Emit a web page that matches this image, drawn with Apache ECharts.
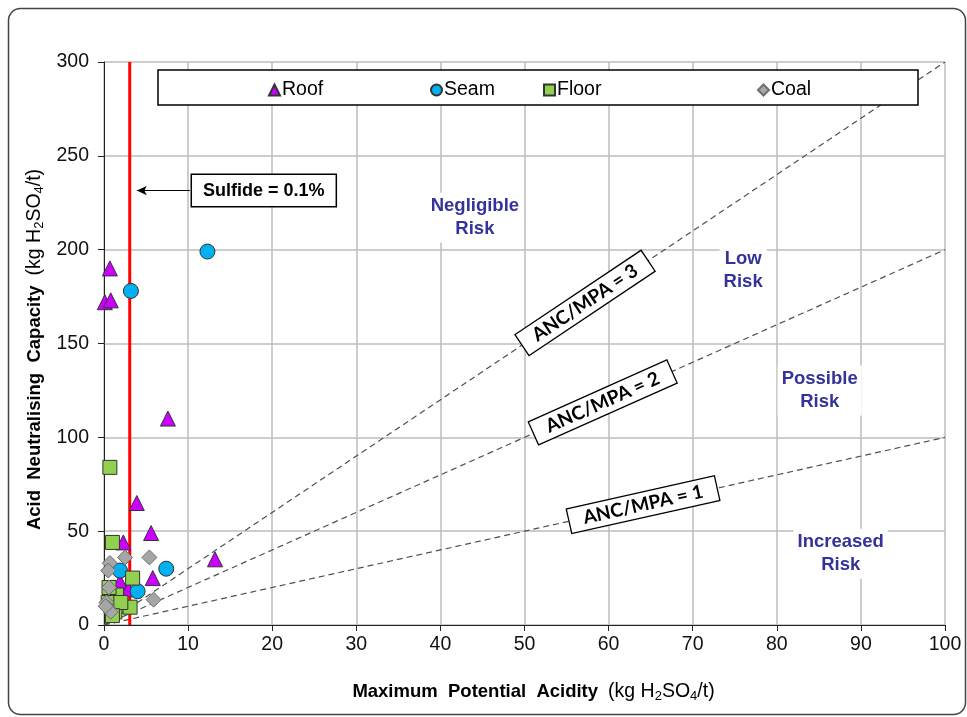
<!DOCTYPE html>
<html>
<head>
<meta charset="utf-8">
<script src="https://cdn.jsdelivr.net/npm/echarts@6/dist/echarts.min.js"></script>
<style>
html,body{margin:0;padding:0;background:#fff;}
#chart{width:967px;height:717px;}
</style>
</head>
<body>
<div id="chart"></div>
<script>
// ---- Data (MPA x, ANC y), kg H2SO4/t ----
const roofData = [[0.7,190],[0.1,172],[0.8,173],[7.6,110],[3.9,65],[5.6,49],[2.3,44],[5.8,25],[13.2,35],[1.9,23],[2.9,19],[1.0,20],[0.6,15]];
const seamData = [[12.3,199],[3.2,178],[7.4,30],[1.9,29],[4.0,18]];
const floorData = [[0.7,84],[1.0,44],[3.4,25],[1.5,16],[0.6,20],[3.1,9.5],[1.3,7],[0.5,12],[2.0,12],[1.0,5]];
const coalData = [[0.7,33],[2.5,36],[5.4,36],[0.5,29],[0.6,20],[5.9,13.5],[0.3,12],[0.5,9],[0.8,7],[0.2,10]];

// Ratio lines ANC/MPA = 1, 2, 3
const ratios = [1, 2, 3];
const xMax = 100;
const sulfideMPA = 3.06; // MPA at 0.1% sulfide

// Tick settings
const xTicks = {min: 0, max: 100, interval: 10};
const yTicks = {min: 0, max: 300, interval: 50};

// Annotation texts
const riskLabels = [
  {text: 'Negligible\nRisk', at: [44.1, 217]},
  {text: 'Low\nRisk', at: [76, 189]},
  {text: 'Possible\nRisk', at: [85.1, 125]},
  {text: 'Increased\nRisk', at: [87.6, 38]}
];
const ratioLabelX = [64.1, 59.3, 57.2];
const sulfideLabel = {text: 'Sulfide = 0.1%', at: [19.0, 231.5], arrowFrom: 10.2, arrowTo: 3.9};

const chart = echarts.init(document.getElementById('chart'), null, {renderer: 'canvas'});

const gridL = 104, gridT = 62, gridR = 22, gridB = 92;
const W = 967, H = 717;
const plotW = W - gridL - gridR, plotH = H - gridT - gridB;
// pixel angle of each ratio line (for rotating labels)
function angleFor(r) {
  const dy = (r * xMax / (yTicks.max - yTicks.min)) * plotH;
  const dx = plotW;
  return Math.atan2(dy, dx) * 180 / Math.PI;
}

const markerBorder = {borderColor: '#333', borderWidth: 1, opacity: 1};
const font = 'Liberation Sans, Arial, sans-serif';
const subRich = {
  b: {fontWeight: 'bold', fontSize: 18.5, fontFamily: font, color: '#000', lineHeight: 22},
  n: {fontSize: 19.5, fontFamily: font, color: '#000', lineHeight: 22},
  s: {fontSize: 13, fontFamily: font, color: '#000', verticalAlign: 'bottom', lineHeight: 13}
};

const series = [];

// ratio dashed lines
ratios.forEach((r, i) => {
  series.push({
    type: 'line', name: 'ratio' + r, silent: true, symbol: 'none', z: 3,
    data: [[0, 0], [xMax, r * xMax]],
    lineStyle: {color: '#505050', width: 1.2, type: [6, 4]},
    animation: false
  });
});

// ratio labels
series.push({
  type: 'scatter', name: 'ratioLabels', silent: true, symbolSize: 0, z: 8,
  itemStyle: {opacity: 1},
  data: ratios.map((r, i) => ({
    value: [ratioLabelX[i], r * ratioLabelX[i]],
    label: {
      show: true, position: 'inside', rotate: angleFor(r),
      formatter: 'ANC/MPA = ' + r,
      fontFamily: 'Lato, Open Sans, sans-serif', fontWeight: 'bold', fontSize: 19, color: '#000',
      backgroundColor: '#fff', borderColor: '#000', borderWidth: 1.3,
      padding: [3, 14, 2, 14]
    }
  })),
  animation: false
});

// risk labels
series.push({
  type: 'scatter', name: 'riskLabels', silent: true, symbolSize: 0, z: 8,
  itemStyle: {opacity: 1},
  data: riskLabels.map(d => ({
    value: d.at,
    label: {
      show: true, position: 'inside', formatter: d.text, align: 'center',
      fontFamily: font, fontWeight: 'bold', fontSize: 18.5, lineHeight: 23, color: '#333399',
      backgroundColor: '#fff', padding: [2, 4]
    }
  })),
  animation: false
});

// sulfide red line + arrow + label
series.push({
  type: 'line', name: 'sulfide', silent: true, symbol: 'none', z: 4,
  data: [[sulfideMPA, yTicks.min], [sulfideMPA, yTicks.max]],
  lineStyle: {color: '#FF0000', width: 3},
  markLine: {
    silent: true, symbol: ['none', 'arrow'], symbolSize: [7, 10],
    lineStyle: {color: '#000', width: 1, type: 'solid'},
    label: {show: false},
    data: [[{coord: [sulfideLabel.arrowFrom, sulfideLabel.at[1]]}, {coord: [sulfideLabel.arrowTo, sulfideLabel.at[1]]}]]
  },
  animation: false
});
series.push({
  type: 'scatter', name: 'sulfideLabel', silent: true, symbolSize: 0, z: 8,
  itemStyle: {opacity: 1},
  data: [{
    value: sulfideLabel.at,
    label: {
      show: true, position: 'inside', formatter: sulfideLabel.text,
      fontFamily: font, fontWeight: 'bold', fontSize: 18, color: '#000',
      backgroundColor: '#fff', borderColor: '#000', borderWidth: 1.5, padding: [7, 11, 6, 11]
    }
  }],
  animation: false
});

// data series (drawn in Excel order: Roof, Seam, Floor, Coal)
series.push({type: 'scatter', name: 'Roof', data: roofData, symbol: 'triangle', symbolSize: 15, z: 10,
  itemStyle: Object.assign({color: '#CC00FF'}, markerBorder)});
series.push({type: 'scatter', name: 'Seam', data: seamData, symbol: 'circle', symbolSize: 15, z: 11,
  itemStyle: Object.assign({color: '#00B0F0'}, markerBorder)});
series.push({type: 'scatter', name: 'Floor', data: floorData, symbol: 'rect', symbolSize: 14, z: 12,
  itemStyle: Object.assign({color: '#92D050'}, markerBorder)});
series.push({type: 'scatter', name: 'Coal', data: coalData, symbol: 'diamond', symbolSize: 15, z: 13,
  itemStyle: {color: '#A6A6A6', borderColor: '#6E6E6E', borderWidth: 1, opacity: 1}});

const legendNames = ['Roof', 'Seam', 'Floor', 'Coal'];
const legendLeft = [268, 430, 543, 757];
const legendIcons = {
  Roof: 'triangle', Seam: 'circle', Floor: 'rect', Coal: 'diamond'
};
const legends = legendNames.map((n, i) => ({
  data: [{name: n, icon: legendIcons[n]}],
  left: legendLeft[i], top: 80, padding: 0, z: 30,
  itemWidth: 11, itemHeight: 11, itemGap: 0, selectedMode: false,
  textStyle: {fontFamily: font, fontSize: 19.5, color: '#000', padding: [0, 0, 0, -3]}
}));

const option = {
  backgroundColor: '#fff',
  animation: false,
  grid: {left: gridL, top: gridT, right: gridR, bottom: gridB, containLabel: false},
  xAxis: {
    type: 'value', min: xTicks.min, max: xTicks.max, interval: xTicks.interval,
    name: '{b|Maximum  Potential  Acidity}   {n|(kg H}{s|2}{n|SO}{s|4}{n|/t)}',
    nameLocation: 'middle', nameGap: 56,
    nameTextStyle: {rich: subRich, padding: [0, 0, 0, 18]},
    axisLine: {show: true, onZero: false, lineStyle: {color: '#222', width: 1}},
    axisTick: {show: true, inside: false, length: 6, lineStyle: {color: '#222'}},
    axisLabel: {fontFamily: font, fontSize: 19.5, color: '#111', margin: 10},
    splitLine: {show: true, lineStyle: {color: '#BDBDBD', width: 1.5}}
  },
  yAxis: {
    type: 'value', min: yTicks.min, max: yTicks.max, interval: yTicks.interval,
    name: '{b|Acid  Neutralising  Capacity}   {n|(kg H}{s|2}{n|SO}{s|4}{n|/t)}',
    nameLocation: 'middle', nameGap: 53, nameRotate: 90,
    nameTextStyle: {rich: subRich, padding: [0, 12, 0, 0]},
    axisLine: {show: true, onZero: false, lineStyle: {color: '#222', width: 1}},
    axisTick: {show: true, inside: false, length: 6, lineStyle: {color: '#222'}},
    axisLabel: {fontFamily: font, fontSize: 19.5, color: '#111', margin: 15},
    splitLine: {show: true, lineStyle: {color: '#BDBDBD', width: 1.5}}
  },
  legend: legends,
  graphic: [
    {type: 'rect', z: 20, shape: {x: 158, y: 70, width: 760, height: 35},
      style: {fill: '#fff', stroke: '#000', lineWidth: 1.5}},
    {type: 'rect', z: 0, silent: true, shape: {x: 8.5, y: 8.5, width: 957, height: 706, r: 12},
      style: {fill: 'none', stroke: '#444', lineWidth: 1.5}}
  ],
  series: series
};
chart.setOption(option);
</script>
</body>
</html>
